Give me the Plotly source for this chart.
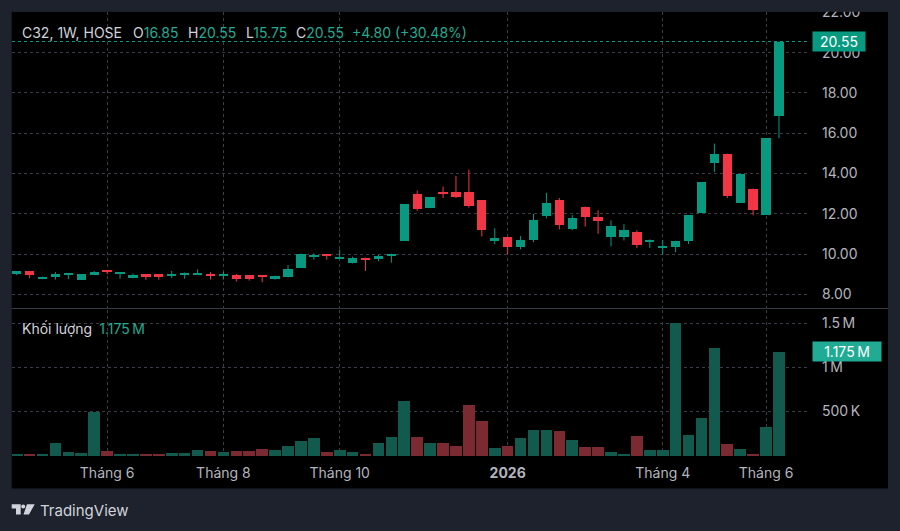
import plotly.graph_objects as go
import pandas as pd

# ---------------- data ----------------
dates = [d.strftime('%Y-%m-%d') for d in pd.date_range('2025-04-14', '2026-06-08', freq='W-MON')
         if d.strftime('%Y-%m-%d') != '2026-02-16']  # Tet holiday week has no bar

opens = [9.00, 9.15, 8.78, 8.87, 8.98, 8.72, 8.98, 9.18, 9.05, 8.80,
         9.00, 9.00, 8.95, 8.97, 8.97, 9.03, 8.93, 8.96, 8.96, 8.92,
         8.77, 8.84, 9.30, 9.87, 10.00, 9.77, 9.57, 9.82, 9.74, 9.92,
         10.67, 12.97, 12.28, 13.07, 13.09, 13.10, 12.68, 10.66, 10.85, 10.34,
         10.69, 11.89, 12.68, 11.25, 12.35, 11.84, 10.86, 10.82, 11.07, 10.62,
         10.28, 10.34, 10.64, 12.05, 14.52, 14.98, 12.55, 13.25, 11.96, 16.85]
highs = [9.15, 9.15, 8.88, 9.10, 9.03, 9.00, 9.15, 9.18, 9.10, 9.03,
         9.00, 9.00, 9.16, 9.08, 9.23, 9.10, 9.12, 9.00, 8.96, 8.92,
         8.92, 9.45, 10.03, 10.03, 10.00, 10.23, 9.87, 9.82, 9.97, 10.02,
         12.47, 13.15, 12.84, 13.35, 13.88, 14.19, 12.68, 11.28, 10.85, 10.89,
         11.99, 13.04, 12.78, 11.93, 12.35, 12.17, 11.67, 11.48, 11.18, 10.72,
         10.69, 10.66, 11.92, 13.56, 15.48, 14.98, 13.98, 13.25, 15.75, 20.55]
lows = [8.95, 8.80, 8.78, 8.73, 8.75, 8.72, 8.98, 9.00, 8.77, 8.80,
        8.72, 8.72, 8.80, 8.77, 8.97, 8.73, 8.73, 8.63, 8.68, 8.60,
        8.73, 8.84, 9.30, 9.72, 9.72, 9.77, 9.53, 9.16, 9.64, 9.57,
        10.67, 12.14, 12.28, 12.78, 12.78, 12.30, 10.87, 10.49, 10.00, 10.23,
        10.59, 11.77, 11.22, 11.18, 11.36, 11.00, 10.38, 10.67, 10.30, 10.30,
        9.98, 10.08, 10.50, 12.05, 14.07, 12.78, 12.55, 11.92, 11.96, 15.75]
closes = [9.15, 8.98, 8.88, 9.00, 9.03, 9.00, 9.11, 9.11, 9.10, 8.96,
          8.85, 8.85, 9.00, 9.08, 9.08, 8.92, 9.00, 8.77, 8.78, 8.87,
          8.92, 9.25, 10.00, 9.95, 9.93, 9.87, 9.80, 9.75, 9.92, 10.02,
          12.47, 12.25, 12.84, 13.00, 12.83, 12.38, 11.20, 10.77, 10.36, 10.72,
          11.68, 12.53, 11.45, 11.78, 11.84, 11.66, 11.37, 11.18, 10.46, 10.72,
          10.38, 10.66, 11.92, 13.56, 14.98, 12.88, 13.98, 12.17, 15.75, 20.55]
volumes = [16e3, 15e3, 15e3, 148e3, 45e3, 27e3, 500e3, 53e3, 15e3, 15e3,
           18e3, 18e3, 25e3, 30e3, 60e3, 50e3, 45e3, 50e3, 53e3, 76e3,
           64e3, 114e3, 170e3, 197e3, 42e3, 68e3, 45e3, 18e3, 148e3, 208e3,
           620e3, 216e3, 144e3, 144e3, 114e3, 576e3, 394e3, 87e3, 110e3, 200e3,
           295e3, 288e3, 280e3, 175e3, 102e3, 102e3, 45e3, 15e3, 227e3, 68e3,
           68e3, 1500e3, 231e3, 432e3, 1215e3, 133e3, 80e3, 20e3, 322e3, 1175e3]

tick_dates = ['2025-06-02', '2025-08-04', '2025-10-06', '2026-01-05', '2026-04-06', '2026-06-01']
tick_text = ['Tháng 6', 'Tháng 8', 'Tháng 10', '<b>2026</b>', 'Tháng 4', 'Tháng 6']
price_ticks = [8, 10, 12, 14, 16, 18, 20, 22]
vol_ticks = [500e3, 1000e3, 1500e3]
vol_tick_text = ['500\u2009K', '1\u2009M', '1.5\u2009M']

# ---------------- style ----------------
UP, DOWN = '#089981', '#f23645'
VUP, VDOWN = '#135a4e', '#7b2a31'
TEXT = '#b2b5be'
GRID = '#3a3e48'
FRAME = '#1e222d'
FONT = 'Inter, Roboto, sans-serif'
FS = 14

W, H = 900, 531
L, R, T, B = 12, 810, 12, 456  # plot area in pixels


def px_x(p):
    return (p - L) / (R - L)


def px_y(p):
    return (B - p) / (B - T)


sep_px = 309
price_dom = [px_y(sep_px), 1]
vol_dom = [0, px_y(310)]

fig = go.Figure()

# wicks
for up in (True, False):
    xs, ys = [], []
    for d, o, h, l, c in zip(dates, opens, highs, lows, closes):
        if (c >= o) == up:
            xs += [d, d, None]
            ys += [l, h, None]
    fig.add_trace(go.Scatter(x=xs, y=ys, mode='lines', line=dict(color=UP if up else DOWN, width=1),
                             hoverinfo='skip', showlegend=False, xaxis='x', yaxis='y'))

# bodies
body_base = [min(o, c) for o, c in zip(opens, closes)]
body_h = [max(abs(c - o), 0.05) for o, c in zip(opens, closes)]
body_col = [UP if c >= o else DOWN for o, c in zip(opens, closes)]
fig.add_trace(go.Bar(x=dates, y=body_h, base=body_base, width=0.72,
                     marker=dict(color=body_col, line=dict(width=0)),
                     showlegend=False, xaxis='x', yaxis='y'))

# volume
vol_col = [VUP if c >= o else VDOWN for o, c in zip(opens, closes)]
fig.add_trace(go.Bar(x=dates, y=volumes, width=0.9,
                     marker=dict(color=vol_col, line=dict(width=0)),
                     showlegend=False, xaxis='x', yaxis='y2'))

spacing = 12.92
first_px = 16.7
xr = [(L - first_px) / spacing, (R - first_px) / spacing]

ppu = 20.14  # px per price unit; 10.00 sits at y=254
p_top = 10 + (254 - T) / ppu
p_bot = 10 - (sep_px - 254) / ppu
vpm = 88.27  # px per million volume; 0 sits at y=455.7
v_top = (455.7 - 310) / vpm * 1e6
v_bot = -(B - 455.7) / vpm * 1e6

fig.update_layout(
    width=W, height=H,
    margin=dict(l=L, r=W - R, t=T, b=H - B, autoexpand=False),
    paper_bgcolor=FRAME, plot_bgcolor='#000000',
    barmode='overlay', bargap=0,
    font=dict(family=FONT, color=TEXT, size=FS),
    xaxis=dict(type='category', categoryorder='array', categoryarray=dates, automargin=False,
               range=xr, anchor='y2', showgrid=True, gridcolor=GRID, griddash='dot', gridwidth=1,
               tickvals=tick_dates, ticktext=tick_text, ticks='', showline=False, zeroline=False,
               tickfont=dict(size=FS, color=TEXT), ticklabelstandoff=7, fixedrange=True),
    yaxis=dict(domain=price_dom, range=[p_bot, p_top], side='right', anchor='x', automargin=False,
               tickvals=price_ticks, ticktext=[f'{v:.2f}' for v in price_ticks],
               showgrid=True, gridcolor=GRID, griddash='dot', zeroline=False, showline=False,
               ticks='', ticklabelstandoff=11, tickfont=dict(size=FS, color=TEXT)),
    yaxis2=dict(domain=vol_dom, range=[v_bot, v_top], side='right', anchor='x', automargin=False,
                tickvals=vol_ticks, ticktext=vol_tick_text,
                showgrid=True, gridcolor=GRID, griddash='dot', zeroline=False, showline=False,
                ticks='', ticklabelstandoff=11, tickfont=dict(size=FS, color=TEXT)),
)

shapes = []
# black chart panel
shapes.append(dict(type='rect', xref='paper', yref='paper', layer='below',
                   x0=px_x(11.7), x1=px_x(888), y0=px_y(488.5), y1=px_y(11.7),
                   fillcolor='#000000', line=dict(width=0)))
# top frame strip (clips the 22.00 label)
shapes.append(dict(type='rect', xref='paper', yref='paper', layer='above',
                   x0=px_x(0), x1=px_x(900), y0=px_y(11.7), y1=px_y(0),
                   fillcolor=FRAME, line=dict(width=0)))
# pane separator
shapes.append(dict(type='line', xref='paper', yref='paper', layer='above',
                   x0=px_x(11.7), x1=px_x(888), y0=px_y(308.5), y1=px_y(308.5),
                   line=dict(color='#363a45', width=1)))
# last price line
shapes.append(dict(type='line', xref='paper', yref='y', layer='above',
                   x0=0, x1=1, y0=closes[-1], y1=closes[-1],
                   line=dict(color=UP, width=1, dash='dot')))
# TradingView logo
LOGO = '#d1d4dc'
shapes.append(dict(type='path', xref='paper', yref='paper', layer='above',
                   path=(f'M {px_x(11.7)},{px_y(504.3)} L {px_x(20.7)},{px_y(504.3)} L {px_x(20.7)},{px_y(514.5)} '
                         f'L {px_x(16)},{px_y(514.5)} L {px_x(16)},{px_y(508.5)} L {px_x(11.7)},{px_y(508.5)} Z'),
                   fillcolor=LOGO, line=dict(width=0)))
shapes.append(dict(type='circle', xref='paper', yref='paper', layer='above',
                   x0=px_x(21.2), x1=px_x(25.2), y0=px_y(508.4), y1=px_y(504.4),
                   fillcolor=LOGO, line=dict(width=0)))
shapes.append(dict(type='path', xref='paper', yref='paper', layer='above',
                   path=(f'M {px_x(27)},{px_y(504.3)} L {px_x(34.7)},{px_y(504.3)} L {px_x(29)},{px_y(514.5)} '
                         f'L {px_x(23.5)},{px_y(514.5)} Z'),
                   fillcolor=LOGO, line=dict(width=0)))
fig.update_layout(shapes=shapes)

GREEN_T = '#22ab94'
HEAD = '#d1d4dc'
ann = []


def txt(x, y, text, size=FS, color=HEAD):
    ann.append(dict(x=px_x(x - 2), y=px_y(y), xref='paper', yref='paper', xanchor='left', yanchor='middle',
                    text=text, showarrow=False, font=dict(family=FONT, size=size, color=color)))


chg = closes[-1] - closes[-2]
pct = chg / closes[-2] * 100
txt(21.7, 33, 'C32, 1W, HOSE')
txt(132.7, 33, f'O<span style="color:{GREEN_T}">{opens[-1]:.2f}</span>')
txt(188.3, 33, f'H<span style="color:{GREEN_T}">{highs[-1]:.2f}</span>')
txt(245.7, 33, f'L<span style="color:{GREEN_T}">{lows[-1]:.2f}</span>')
txt(296, 33, f'C<span style="color:{GREEN_T}">{closes[-1]:.2f}</span>')
txt(352.3, 33, f'{chg:+.2f} ({pct:+.2f}%)', color=GREEN_T)
txt(21.7, 329, f'Khối lượng\u2002<span style="color:{GREEN_T}">{volumes[-1] / 1e6:.3f}\u2009M</span>')
txt(40, 510, 'TradingView', size=15, color=HEAD)

# axis value labels
ann.append(dict(x=px_x(812), y=closes[-1], xref='paper', yref='y', xanchor='left', yanchor='middle',
                text=f'{closes[-1]:.2f}', showarrow=False, bgcolor=UP, width=50, height=17, borderpad=1,
                font=dict(family=FONT, size=FS, color='#ffffff')))
ann.append(dict(x=px_x(812), y=volumes[-1], xref='paper', yref='y2', xanchor='left', yanchor='middle',
                text=f'{volumes[-1] / 1e6:.3f}\u2009M', showarrow=False, bgcolor=GREEN_T, width=66, height=17,
                borderpad=1, font=dict(family=FONT, size=FS, color='#ffffff')))
fig.update_layout(annotations=ann)

fig.write_html('out.html')
